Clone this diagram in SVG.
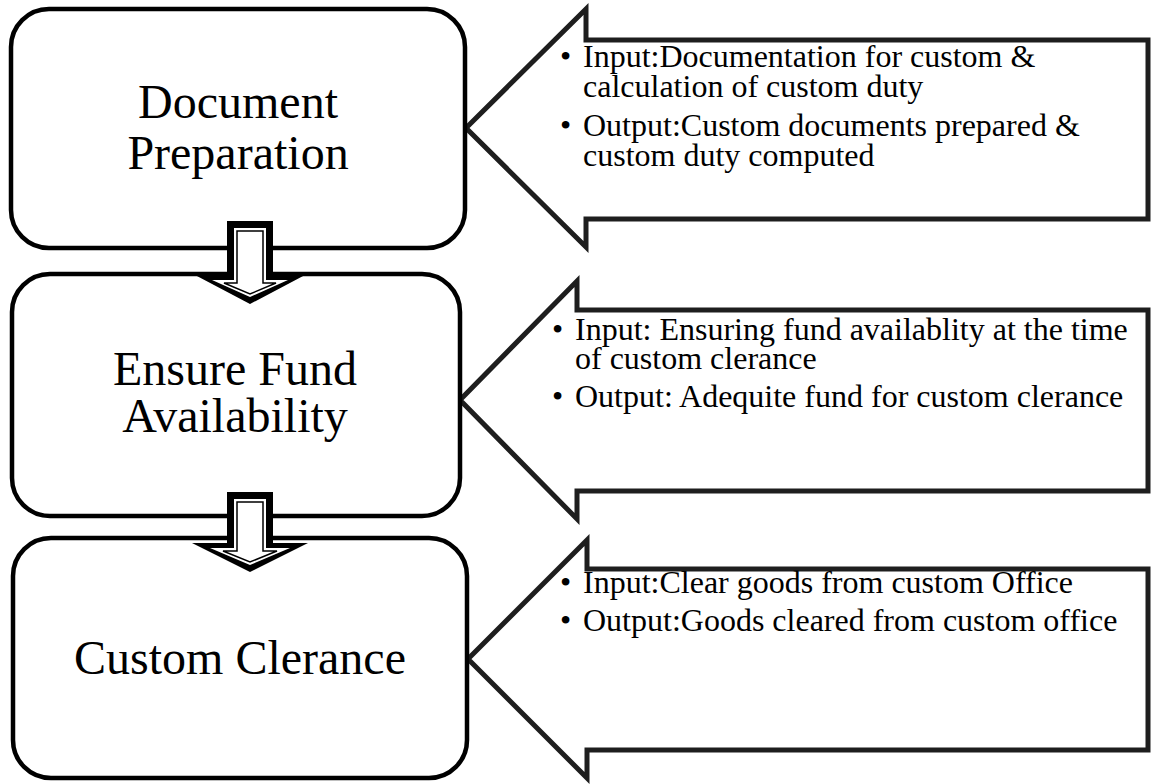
<svg xmlns="http://www.w3.org/2000/svg" width="1151" height="784" viewBox="0 0 1151 784">
<style>
.box{fill:#fff;stroke:#000;stroke-width:4.5}
.call{fill:#fff;stroke:#1e1e1e;stroke-width:5;stroke-linejoin:miter}
.title{font-family:'Liberation Serif','Times New Roman',Times,serif;font-size:48px;fill:#000;text-anchor:middle}
.txt{font-family:'Liberation Serif','Times New Roman',Times,serif;font-size:32px;fill:#000}
.ao{fill:#000}
.am{fill:#fff}
.ai{fill:#fff;stroke:#000;stroke-width:1.5}
</style>
<g id="callout1">
<polygon class="call" points="466,128 586,9 586,40 1148,40 1148,219 586,219 586,247"/>
<text class="txt"><tspan x="560" y="67">•</tspan><tspan x="583" y="67">Input:Documentation for custom &amp;</tspan><tspan x="583" y="97">calculation of custom duty</tspan><tspan x="560" y="136">•</tspan><tspan x="583" y="136">Output:Custom documents prepared &amp;</tspan><tspan x="583" y="166">custom duty computed</tspan></text>
</g>
<g id="callout2">
<polygon class="call" points="460,400 577,281 577,310 1148,310 1148,491 577,491 577,519"/>
<text class="txt"><tspan x="552" y="340">•</tspan><tspan x="575" y="340">Input: Ensuring fund availablity at the time</tspan><tspan x="575" y="369">of custom clerance</tspan><tspan x="552" y="407">•</tspan><tspan x="575" y="407">Output: Adequite fund for custom clerance</tspan></text>
</g>
<g id="callout3">
<polygon class="call" points="468,659 587,540 587,569 1148,569 1148,750 587,750 587,778"/>
<text class="txt"><tspan x="560" y="593">•</tspan><tspan x="583" y="593">Input:Clear goods from custom Office</tspan><tspan x="560" y="631">•</tspan><tspan x="583" y="631">Output:Goods cleared from custom office</tspan></text>
</g>
<g id="node1">
<rect class="box" x="11" y="9" width="454" height="239" rx="38"/>
<text class="title"><tspan x="238" y="118">Document</tspan><tspan x="238" y="169">Preparation</tspan></text>
</g>
<g id="node2">
<rect class="box" x="12" y="274" width="448" height="242" rx="38"/>
<text class="title"><tspan x="235" y="385">Ensure Fund</tspan><tspan x="235" y="432">Availability</tspan></text>
</g>
<g id="node3">
<rect class="box" x="13" y="538" width="454" height="240" rx="38"/>
<text class="title"><tspan x="240" y="674">Custom Clerance</tspan></text>
</g>
<g id="connectors">
<g id="arrow1">
<polygon class="ao" points="227,221 273,221 273,275 305,275 250,304 195,275 227,275"/>
<polygon class="am" points="234,228 266,228 266,280 288,280 250,297 212,280 234,280"/>
<polygon class="ai" points="237,231 263,231 263,283 276,283 250,294 224,283 237,283"/>
</g>
<g id="arrow2">
<polygon class="ao" points="227,492 273,492 273,543 308,543 250,572 192,543 227,543"/>
<polygon class="am" points="234,499 266,499 266,548 290,548 250,565 210,548 234,548"/>
<polygon class="ai" points="237,502 263,502 263,551 277,551 250,562 223,551 237,551"/>
</g>
</g>
</svg>
